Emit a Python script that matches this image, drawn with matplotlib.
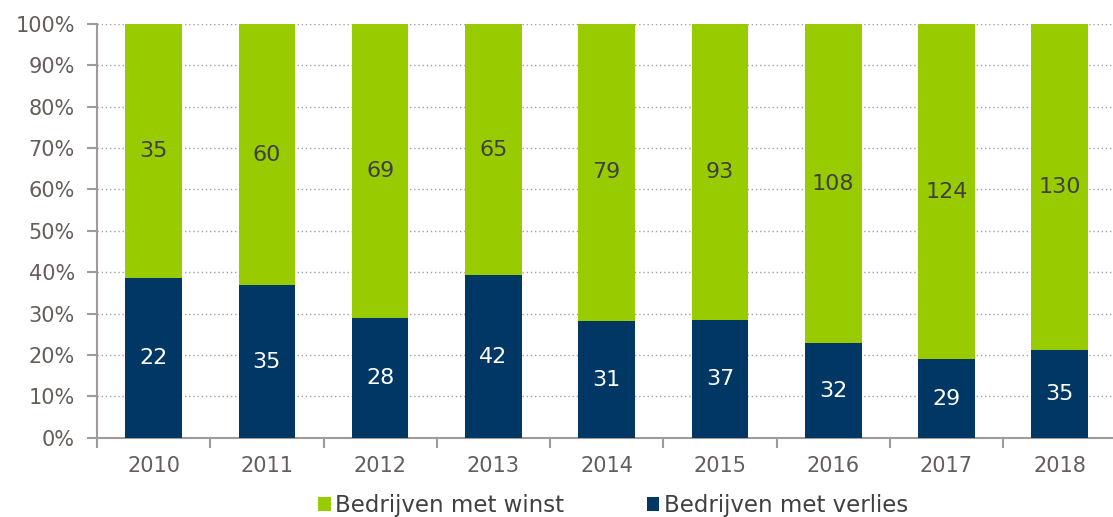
import matplotlib.pyplot as plt
import numpy as np
from matplotlib.ticker import PercentFormatter, FixedLocator, NullFormatter

years = ["2010", "2011", "2012", "2013", "2014", "2015", "2016", "2017", "2018"]
verlies = [22, 35, 28, 42, 31, 37, 32, 29, 35]
winst = [35, 60, 69, 65, 79, 93, 108, 124, 130]

GREEN = "#99CC00"
NAVY = "#003764"
TXT = "#655D5A"
AXC = "#A09A98"

def main():
    v = np.array(verlies, dtype=float)
    w = np.array(winst, dtype=float)
    tot = v + w
    pv = v / tot * 100
    pw = w / tot * 100
    x = np.arange(len(years))

    fig = plt.figure(figsize=(11.13, 5.17), dpi=100)
    ax = fig.add_axes([97 / 1113, 0.153, 1016 / 1113, 0.801])

    ax.bar(x, pw, 0.5, bottom=pv, color=GREEN, label="Bedrijven met winst", zorder=3)
    ax.bar(x, pv, 0.5, color=NAVY, label="Bedrijven met verlies", zorder=3)

    for i in range(len(x)):
        ax.text(x[i], pv[i] / 2, str(verlies[i]), ha="center", va="center",
                color="white", fontsize=16, zorder=4)
        ax.text(x[i], pv[i] + pw[i] / 2, str(winst[i]), ha="center", va="center",
                color="#404040", fontsize=16, zorder=4)

    ax.set_xlim(-0.5, 8.47)
    ax.set_ylim(0, 100)
    ax.set_yticks(np.arange(0, 101, 10))
    ax.yaxis.set_major_formatter(PercentFormatter(decimals=0))
    ax.grid(axis="y", linestyle=(0, (1, 2)), color="#A0A0A0", linewidth=1, zorder=0)

    # ticks between categories, labels at centres
    ax.xaxis.set_major_locator(FixedLocator(np.arange(-0.5, 9, 1)))
    ax.xaxis.set_major_formatter(NullFormatter())
    ax.xaxis.set_minor_locator(FixedLocator(x))
    ax.set_xticklabels(years, minor=True)
    ax.tick_params(axis="x", which="minor", length=0, pad=13, labelsize=15, labelcolor=TXT)
    ax.tick_params(axis="x", which="major", length=7, color=AXC, width=1.5)
    ax.tick_params(axis="y", length=7, color=AXC, width=1.5, labelsize=15, labelcolor=TXT, pad=9)

    for s in ["top", "right"]:
        ax.spines[s].set_visible(False)
    ax.spines["left"].set_color(AXC)
    ax.spines["bottom"].set_color(AXC)
    ax.spines["left"].set_linewidth(1.5)
    ax.spines["bottom"].set_linewidth(1.5)

    leg = fig.legend(loc="center", bbox_to_anchor=(0.551, 0.022), ncol=2, frameon=False,
                     fontsize=16.5, handlelength=0.55, handleheight=0.55, handletextpad=0.2,
                     columnspacing=3.6, borderpad=0)
    for t in leg.get_texts():
        t.set_color("#404040")

    fig.savefig("out.png", dpi=100)

if __name__ == "__main__":
    main()
